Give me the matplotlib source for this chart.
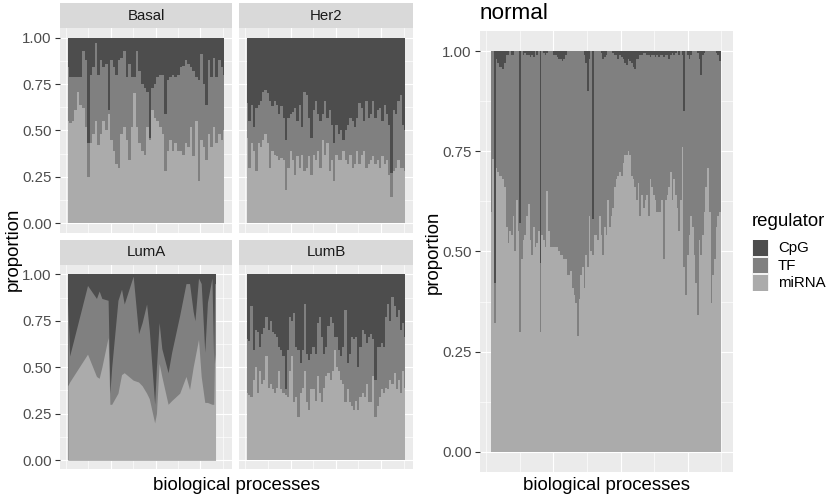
import numpy as np
import matplotlib
matplotlib.use("Agg")
import matplotlib.pyplot as plt
from matplotlib.patches import Rectangle

plt.rcParams['font.family'] = ['Liberation Sans', 'DejaVu Sans']

# ---------------- data (proportions per biological process) ----------------
regulators = ["CpG", "TF", "miRNA"]
subtypes = ["Basal", "Her2", "LumA", "LumB"]
ytick_labels = ["0.00", "0.25", "0.50", "0.75", "1.00"]

basal_cpg = [0.16,0.21,0.21,0.21,0.21,0.21,0.07,0.12,0.57,0.20,
             0.16,0.03,0.20,0.12,0.16,0.14,0.39,0.12,0.16,0.20,
             0.12,0.11,0.07,0.21,0.14,0.21,0.21,0.07,0.18,0.25,
             0.27,0.29,0.54,0.27,0.25,0.21,0.20,0.20,0.41,0.23,
             0.21,0.20,0.21,0.20,0.16,0.15,0.12,0.14,0.16,0.18,
             0.21,0.23,0.09,0.25,0.36,0.12,0.21,0.11,0.21,0.12,
             0.16,0.20]
basal_mirna = [0.55,0.54,0.55,0.61,0.71,0.64,0.62,0.52,0.25,0.43,
               0.48,0.55,0.42,0.48,0.55,0.50,0.59,0.45,0.39,0.32,
               0.30,0.48,0.52,0.45,0.34,0.52,0.70,0.52,0.43,0.39,
               0.37,0.52,0.45,0.61,0.57,0.55,0.52,0.48,0.28,0.39,
               0.45,0.39,0.43,0.39,0.39,0.37,0.43,0.41,0.52,0.36,
               0.55,0.23,0.45,0.41,0.34,0.48,0.41,0.52,0.43,0.48,
               0.45,0.50]

her2_cpg = [0.35,0.45,0.36,0.48,0.38,0.36,0.34,0.29,0.28,0.30,
            0.34,0.37,0.34,0.36,0.41,0.37,0.43,0.55,0.43,0.41,
            0.40,0.38,0.45,0.36,0.48,0.29,0.31,0.43,0.54,0.39,
            0.34,0.41,0.45,0.41,0.34,0.43,0.39,0.47,0.57,0.47,
            0.52,0.50,0.55,0.50,0.47,0.43,0.45,0.48,0.43,0.35,
            0.38,0.45,0.34,0.43,0.41,0.34,0.43,0.39,0.38,0.45,
            0.36,0.41,0.47,0.73,0.39,0.41,0.34,0.31,0.47,0.50]
her2_mirna = [0.46,0.30,0.43,0.39,0.28,0.43,0.41,0.45,0.48,0.43,
              0.30,0.39,0.37,0.36,0.34,0.35,0.34,0.18,0.30,0.39,
              0.34,0.26,0.36,0.30,0.37,0.28,0.30,0.36,0.26,0.37,
              0.34,0.39,0.30,0.45,0.37,0.43,0.28,0.34,0.23,0.37,
              0.34,0.34,0.39,0.34,0.32,0.37,0.30,0.32,0.39,0.32,
              0.37,0.39,0.30,0.32,0.34,0.36,0.32,0.34,0.30,0.36,
              0.32,0.34,0.26,0.14,0.28,0.30,0.34,0.30,0.30,0.28]

# LumA covers a sparse subset of the processes (shared process index)
lumA_process = [2,4,24,34,37,40,47,49,51,58,62,65,75,81,85,90,93,99,101,
                104,107,114,118,127,134,138,142,144,148,151,155,158,163,165,166,167]
lumA_cpg = [0.15,0.44,0.06,0.13,0.09,0.13,0.14,0.64,0.50,0.14,0.08,0.16,0.01,
            0.32,0.26,0.16,0.30,0.70,0.50,0.26,0.40,0.53,0.42,0.22,0.05,0.05,
            0.20,0.25,0.02,0.05,0.42,0.15,0.02,0.48,0.05,0.05]
lumA_mirna = [0.40,0.42,0.57,0.45,0.44,0.50,0.66,0.30,0.30,0.36,0.46,0.47,0.43,
              0.42,0.40,0.36,0.33,0.20,0.25,0.52,0.45,0.30,0.32,0.36,0.45,0.38,
              0.50,0.55,0.65,0.45,0.31,0.31,0.30,0.30,0.57,0.52]

lumb_cpg = [0.35,0.36,0.17,0.41,0.30,0.31,0.39,0.32,0.29,0.23,
            0.30,0.25,0.31,0.32,0.34,0.39,0.41,0.44,0.62,0.41,
            0.23,0.25,0.21,0.39,0.41,0.48,0.41,0.16,0.43,0.46,
            0.43,0.39,0.43,0.26,0.23,0.34,0.43,0.39,0.28,0.23,
            0.26,0.34,0.34,0.41,0.44,0.39,0.19,0.48,0.43,0.34,
            0.35,0.34,0.50,0.39,0.30,0.32,0.37,0.34,0.32,0.35,
            0.57,0.39,0.39,0.37,0.39,0.23,0.16,0.25,0.12,0.17,
            0.23,0.19,0.30,0.26,0.34]
lumb_mirna = [0.36,0.35,0.34,0.43,0.50,0.36,0.48,0.41,0.43,0.56,
              0.39,0.41,0.38,0.36,0.39,0.48,0.38,0.36,0.35,0.34,
              0.48,0.56,0.31,0.34,0.23,0.36,0.39,0.48,0.31,0.27,
              0.38,0.38,0.32,0.45,0.36,0.31,0.39,0.45,0.47,0.43,
              0.48,0.59,0.50,0.48,0.43,0.41,0.31,0.38,0.31,0.29,
              0.27,0.32,0.27,0.34,0.36,0.34,0.41,0.31,0.31,0.45,
              0.23,0.29,0.34,0.38,0.36,0.39,0.38,0.43,0.41,0.47,
              0.38,0.43,0.36,0.48,0.39]

normal_mirna = [0.60,0.73,0.32,0.71,0.70,0.69,0.69,0.68,0.66,0.56,
                0.52,0.55,0.54,0.59,0.50,0.63,0.55,0.30,0.48,0.53,
                0.54,0.59,0.62,0.53,0.49,0.56,0.51,0.52,0.55,0.30,
                0.54,0.53,0.51,0.65,0.55,0.51,0.51,0.51,0.51,0.51,
                0.50,0.49,0.49,0.48,0.48,0.44,0.44,0.45,0.41,0.39,
                0.37,0.29,0.38,0.44,0.46,0.41,0.49,0.46,0.59,0.50,
                0.49,0.54,0.54,0.53,0.59,0.54,0.49,0.56,0.54,0.63,
                0.56,0.59,0.61,0.66,0.68,0.69,0.70,0.69,0.72,0.74,
                0.74,0.75,0.74,0.69,0.68,0.66,0.63,0.67,0.59,0.64,
                0.61,0.63,0.64,0.59,0.68,0.66,0.64,0.63,0.60,0.60,
                0.60,0.63,0.48,0.63,0.64,0.66,0.70,0.63,0.68,0.64,
                0.61,0.55,0.63,0.76,0.46,0.39,0.49,0.54,0.59,0.56,
                0.49,0.42,0.34,0.53,0.49,0.54,0.60,0.66,0.71,0.60,
                0.37,0.44,0.48,0.56,0.59,0.60,0.56]
normal_cpg = [0.00,0.00,0.58,0.02,0.03,0.04,0.04,0.045,0.03,0.01,
              0.01,0.00,0.01,0.01,0.00,0.00,0.00,0.43,0.00,0.01,
              0.005,0.01,0.01,0.015,0.01,0.015,0.00,0.01,0.00,0.53,
              0.00,0.005,0.01,0.005,0.00,0.00,0.00,0.01,0.01,0.015,
              0.02,0.02,0.025,0.02,0.01,0.00,0.00,0.00,0.00,0.00,
              0.00,0.00,0.00,0.00,0.00,0.01,0.03,0.10,0.02,0.00,
              0.42,0.00,0.00,0.00,0.00,0.005,0.02,0.015,0.01,0.00,
              0.00,0.00,0.005,0.01,0.01,0.02,0.01,0.015,0.02,0.03,
              0.035,0.02,0.025,0.03,0.04,0.045,0.02,0.02,0.01,0.01,
              0.005,0.005,0.01,0.01,0.015,0.01,0.01,0.015,0.01,0.015,
              0.01,0.01,0.015,0.01,0.01,0.02,0.01,0.005,0.01,0.005,
              0.00,0.01,0.00,0.01,0.15,0.00,0.01,0.02,0.01,0.00,
              0.00,0.00,0.005,0.02,0.06,0.01,0.005,0.00,0.00,0.00,
              0.00,0.00,0.00,0.005,0.01,0.025,0.01]

# ---------------- style ----------------
C_CPG, C_TF, C_MIRNA = "#4D4D4D", "#808080", "#ABABAB"
PANEL_BG, STRIP_BG = "#EBEBEB", "#D9D9D9"
W, H = 829, 498
fig = plt.figure(figsize=(W / 100, H / 100), dpi=100)
fig.patch.set_facecolor("white")


def ax_px(x0, y0, x1, y1, **kw):
    return fig.add_axes([x0 / W, 1 - y1 / H, (x1 - x0) / W, (y1 - y0) / H], **kw)


def style_panel(ax, xlo, xhi, show_y):
    ax.set_facecolor(PANEL_BG)
    rng = xhi - xlo
    ax.set_xlim(xlo - 0.05 * rng, xhi + 0.05 * rng)
    ax.set_ylim(-0.05, 1.05)
    ax.set_xticks([50, 100, 150])
    ax.set_xticks([0, 25, 75, 125, 175], minor=True)
    ax.set_yticks([0, 0.25, 0.5, 0.75, 1.0])
    ax.set_yticks([0.125, 0.375, 0.625, 0.875], minor=True)
    ax.grid(which="major", color="white", lw=0.85)
    ax.grid(which="minor", color="white", lw=0.45)
    ax.set_axisbelow(True)
    for s in ax.spines.values():
        s.set_visible(False)
    ax.tick_params(axis="x", which="both", length=0, labelbottom=False)
    ax.tick_params(axis="y", which="minor", length=0)
    if show_y:
        ax.set_yticklabels(ytick_labels)
        ax.tick_params(axis="y", which="major", length=3.4, width=0.8,
                       color="#333333", labelsize=10.8, labelcolor="#4D4D4D", pad=2.5)
    else:
        ax.tick_params(axis="y", which="major", length=0, labelleft=False)


def draw_stack(ax, x, mirna, cpg, step):
    mirna = np.asarray(mirna, float)
    top = 1 - np.asarray(cpg, float)
    kw = dict(step="mid") if step else {}
    ax.fill_between(x, 0, np.ones_like(top), color=C_CPG, lw=0, zorder=2, **kw)
    ax.fill_between(x, 0, top, color=C_TF, lw=0, zorder=3, **kw)
    ax.fill_between(x, 0, mirna, color=C_MIRNA, lw=0, zorder=4, **kw)


def strip(x0, y0, x1, y1, label):
    sa = ax_px(x0, y0, x1, y1)
    sa.set_facecolor(STRIP_BG)
    sa.set_xticks([]); sa.set_yticks([])
    for s in sa.spines.values():
        s.set_visible(False)
    sa.text(0.5, 0.5, label, ha="center", va="center", fontsize=10.8,
            color="#1A1A1A", transform=sa.transAxes)


FX0, FX1 = 2, 177  # process index range of the facet panels
facets = [
    ("Basal", (60, 28.4, 232.3, 232.6), basal_mirna, basal_cpg, None, True),
    ("Her2", (239.3, 28.4, 413.3, 232.6), her2_mirna, her2_cpg, None, False),
    ("LumA", (60, 265, 232.3, 469.3), lumA_mirna, lumA_cpg, lumA_process, True),
    ("LumB", (239.3, 265, 413.3, 469.3), lumb_mirna, lumb_cpg, None, False),
]
for name, (x0, y0, x1, y1), mir, cpg, proc, show_y in facets:
    ax = ax_px(x0, y0, x1, y1)
    style_panel(ax, FX0, FX1, show_y)
    if proc is None:
        xs = np.linspace(FX0, FX1, len(mir))
        draw_stack(ax, xs, mir, cpg, step=True)
    else:
        draw_stack(ax, np.asarray(proc, float), mir, cpg, step=False)
    strip(x0, y0 - 25, x1, y0, name)

# normal panel
NX0, NX1 = 4, 175
axn = ax_px(480, 31.5, 733, 471.5)
style_panel(axn, NX0, NX1, True)
draw_stack(axn, np.linspace(NX0, NX1, len(normal_mirna)), normal_mirna, normal_cpg, step=True)

# ---------------- overlay texts & legend ----------------
ov = fig.add_axes([0, 0, 1, 1])
ov.set_xlim(0, W); ov.set_ylim(H, 0); ov.axis("off")
ov.patch.set_alpha(0)

ov.text(13, 249, "proportion", rotation=90, ha="center", va="center", fontsize=13.4, color="black")
ov.text(236.5, 485, "biological processes", ha="center", va="center", fontsize=13.4, color="black")
ov.text(433, 252, "proportion", rotation=90, ha="center", va="center", fontsize=13.4, color="black")
ov.text(606.5, 485, "biological processes", ha="center", va="center", fontsize=13.4, color="black")
ov.text(480, 13, "normal", ha="left", va="center", fontsize=16.2, color="black")

ov.text(751.5, 221, "regulator", ha="left", va="center", fontsize=13.4, color="black")
key_cols = [C_CPG, C_TF, C_MIRNA]
for i, (lab, col) in enumerate(zip(regulators, key_cols)):
    yk = 239.5 + i * 17.3
    ov.add_patch(Rectangle((752.5, yk), 16.5, 17.3, facecolor="#F2F2F2", edgecolor="none"))
    ov.add_patch(Rectangle((753.3, yk + 0.8), 14.9, 15.7, facecolor=col, edgecolor="none"))
    ov.text(778, yk + 8.8, lab, ha="left", va="center", fontsize=10.8, color="black")

fig.savefig("out.png", dpi=100)
